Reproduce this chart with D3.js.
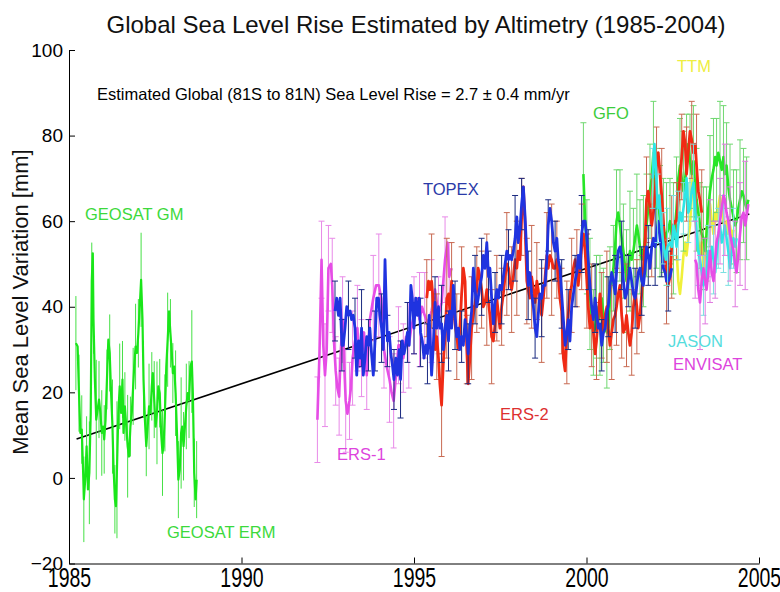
<!DOCTYPE html>
<html>
<head>
<meta charset="utf-8">
<script src="https://cdn.jsdelivr.net/npm/d3@7"></script>
<style>
  body { margin: 0; background: #fff; }
  svg { display: block; font-family: "Liberation Sans", Arial, sans-serif; }
</style>
</head>
<body>
<svg id="chart" width="780" height="592"></svg>
<script>
// ---- data: [decimal year, mean sea level (mm)] ----
const geosat = [[1985.20,31.5],[1985.25,30.7],[1985.29,19.8],[1985.33,10.5],[1985.37,11.3],[1985.41,1.2],[1985.43,-5],[1985.47,-0.4],[1985.51,7.4],[1985.55,-2.7],[1985.59,1.2],[1985.63,15.2],[1985.66,46],[1985.69,52.5],[1985.71,37],[1985.75,23],[1985.79,13.6],[1985.83,16],[1985.87,18.3],[1985.91,15.2],[1985.95,10.5],[1985.99,12],[1986.02,9],[1986.06,13.6],[1986.10,23],[1986.14,32.3],[1986.18,29.2],[1986.22,19.8],[1986.26,12],[1986.29,2.7],[1986.33,-5],[1986.36,-6.6],[1986.39,1.9],[1986.43,15.2],[1986.47,21.4],[1986.51,15.2],[1986.55,23],[1986.58,10.5],[1986.62,16.7],[1986.66,12],[1986.70,7.4],[1986.74,5],[1986.78,12],[1986.82,15.2],[1986.86,21.4],[1986.89,26],[1986.93,30.7],[1986.97,29.2],[1987.01,33.8],[1987.05,40],[1987.09,46.3],[1987.13,37],[1987.16,23],[1987.20,13.6],[1987.24,7.4],[1987.28,12],[1987.32,16.7],[1987.36,15.2],[1987.40,21.4],[1987.43,24.5],[1987.47,18.3],[1987.51,12],[1987.55,15.2],[1987.59,21.4],[1987.63,19.8],[1987.67,10.5],[1987.71,5.8],[1987.74,7.4],[1987.78,15.2],[1987.82,26],[1987.86,32.3],[1987.90,38.9],[1987.94,33.8],[1987.98,29.2],[1988.01,24.5],[1988.05,26],[1988.09,19.8],[1988.13,10.5],[1988.17,-0.4],[1988.21,1.9],[1988.25,10.5],[1988.28,12],[1988.32,7.4],[1988.36,12],[1988.40,16.7],[1988.44,19.8],[1988.48,18.3],[1988.52,26],[1988.56,27.2],[1988.59,19.8],[1988.63,1.2],[1988.67,-5],[1988.70,-0.4]];
const geosatErr = [11,9,8,10,7,12,9,8,14,9,10,8,7,9,11,8,16,10,9,8,12,7,9,10,8,11,9,7,10,8,9,12,8,10,9,11,8,7,10,9,13,8,10,9,12,8,9];

const ers1 = [[1992.20,13.6],[1992.26,29],[1992.32,51],[1992.37,31],[1992.42,24],[1992.47,30],[1992.52,49],[1992.59,50],[1992.63,45],[1992.68,32],[1992.73,25],[1992.78,21],[1992.83,19],[1992.88,30],[1992.93,37],[1992.97,28],[1993.02,18],[1993.07,15],[1993.13,18],[1993.17,21],[1993.22,28],[1993.29,32],[1993.36,35],[1993.42,26],[1993.48,28],[1993.55,34],[1993.63,24],[1993.72,37],[1993.82,42],[1993.90,45],[1993.98,45],[1994.05,42],[1994.13,30],[1994.21,26],[1994.29,23],[1994.35,20],[1994.41,18],[1994.48,24],[1994.55,31],[1994.61,31],[1994.69,28],[1994.77,33],[1994.85,31],[1994.92,35],[1995.00,38],[1995.08,42],[1995.16,37],[1995.23,40],[1995.31,38],[1995.40,36],[1995.51,39],[1995.61,44],[1995.71,38],[1995.80,41],[1995.90,51],[1995.97,55],[1996.02,47],[1996.09,49]];
const ers1Err = [10,9,12,10,11,8,9,10,12,9,11,10,9,8,10,12,9,10,11,9,8,10,9,11,10,12,9,10,8];

const topex = [[1992.71,39],[1992.76,42],[1992.81,38],[1992.86,42],[1992.91,31],[1992.95,31],[1993.00,35],[1993.05,40],[1993.10,38],[1993.15,39],[1993.19,37],[1993.24,38],[1993.29,35],[1993.34,24],[1993.39,32],[1993.44,28],[1993.48,35],[1993.53,24],[1993.58,28],[1993.63,33],[1993.68,31],[1993.72,35],[1993.77,29],[1993.82,24],[1993.87,32],[1993.92,42],[1993.97,42],[1994.01,38],[1994.06,35],[1994.11,30],[1994.16,51],[1994.19,42],[1994.23,32],[1994.28,34],[1994.33,29],[1994.38,26],[1994.42,23],[1994.47,28],[1994.52,24],[1994.57,30],[1994.61,23],[1994.66,32],[1994.71,29],[1994.76,31],[1994.81,34],[1994.86,31],[1994.91,45],[1994.95,42],[1995.00,35],[1995.05,42],[1995.10,38],[1995.15,42],[1995.19,34],[1995.24,32],[1995.29,28],[1995.34,31],[1995.39,29],[1995.44,38],[1995.51,24],[1995.56,31],[1995.61,41],[1995.66,35],[1995.71,40],[1995.75,35],[1995.80,36],[1995.85,30],[1995.90,35],[1995.95,38],[1996.00,32],[1996.04,39],[1996.09,35],[1996.14,45],[1996.19,38],[1996.24,33],[1996.29,35],[1996.33,30],[1996.38,33],[1996.43,31],[1996.48,37],[1996.53,33],[1996.57,29],[1996.62,35],[1996.67,39],[1996.72,49],[1996.77,44],[1996.82,40],[1996.86,42],[1996.91,45],[1996.96,47],[1997.01,52],[1997.06,49],[1997.11,55],[1997.16,47],[1997.20,49],[1997.25,42],[1997.30,36],[1997.35,41],[1997.40,44],[1997.45,42],[1997.49,45],[1997.54,44],[1997.59,47],[1997.64,50],[1997.69,53],[1997.74,51],[1997.78,52],[1997.83,51],[1997.88,53],[1997.93,56],[1997.98,61],[1998.02,55],[1998.07,58],[1998.12,64],[1998.17,68],[1998.22,61],[1998.27,52],[1998.31,45],[1998.36,48],[1998.41,43],[1998.46,40],[1998.51,35],[1998.56,33],[1998.60,38],[1998.65,43],[1998.70,42],[1998.75,45],[1998.80,45],[1998.85,51],[1998.89,59],[1998.94,63],[1998.99,60],[1999.04,55],[1999.09,53],[1999.14,56],[1999.18,51],[1999.23,49],[1999.28,43],[1999.33,37],[1999.38,31],[1999.43,34],[1999.47,37],[1999.52,32],[1999.57,40],[1999.62,43],[1999.67,46],[1999.72,48],[1999.76,52],[1999.81,49],[1999.86,57],[1999.91,60],[1999.96,60],[2000.01,56],[2000.05,51],[2000.10,45],[2000.15,40],[2000.20,37],[2000.25,42],[2000.29,39],[2000.34,35],[2000.39,36],[2000.44,31],[2000.49,34],[2000.54,35],[2000.59,39],[2000.63,40],[2000.68,45],[2000.73,48],[2000.78,46],[2000.83,43],[2000.87,48],[2000.92,53],[2000.97,54],[2001.02,52],[2001.07,46],[2001.12,42],[2001.16,43],[2001.21,46],[2001.26,49],[2001.31,46],[2001.36,43],[2001.41,42],[2001.46,45],[2001.50,48],[2001.55,49],[2001.60,46],[2001.65,45],[2001.70,49],[2001.74,54],[2001.79,52],[2001.84,49],[2001.89,54],[2001.94,56],[2001.99,54],[2002.03,57],[2002.08,60],[2002.13,56],[2002.18,53],[2002.23,49],[2002.28,48],[2002.32,46],[2002.37,46],[2002.42,47],[2002.47,49]];
const topexErr = [7,6,8,7,9,6,7,8,6,7,9,7,6,8,7,6,9,7,8,6,7,8,9,6,7,8,7,10,6,8,7,9,6,7,8,7,6,9,7,8,6,7,9,8,6,7,8,7,9,6,7];

const ers2 = [[1995.37,42],[1995.42,46],[1995.46,44],[1995.51,46],[1995.56,41],[1995.61,30],[1995.66,33],[1995.71,28],[1995.75,22],[1995.80,17],[1995.85,27],[1995.90,33],[1995.95,42],[1996.00,43],[1996.04,39],[1996.09,46],[1996.14,40],[1996.19,36],[1996.24,33],[1996.29,30],[1996.33,35],[1996.38,43],[1996.43,49],[1996.48,46],[1996.53,30],[1996.57,22],[1996.62,28],[1996.67,35],[1996.72,38],[1996.77,41],[1996.82,44],[1996.86,49],[1996.91,47],[1996.96,44],[1997.01,40],[1997.06,41],[1997.11,44],[1997.16,41],[1997.20,38],[1997.25,33],[1997.30,32],[1997.35,36],[1997.40,42],[1997.45,38],[1997.49,35],[1997.54,40],[1997.59,43],[1997.64,47],[1997.69,50],[1997.74,49],[1997.78,46],[1997.83,44],[1997.88,47],[1997.93,51],[1997.98,49],[1998.02,53],[1998.07,51],[1998.12,61],[1998.17,68],[1998.22,59],[1998.27,46],[1998.31,44],[1998.36,42],[1998.41,47],[1998.46,44],[1998.51,41],[1998.56,46],[1998.60,44],[1998.65,40],[1998.70,38],[1998.75,42],[1998.80,47],[1998.85,52],[1998.89,49],[1998.94,52],[1998.99,51],[1999.04,49],[1999.09,49],[1999.14,51],[1999.18,47],[1999.23,42],[1999.28,39],[1999.33,28],[1999.38,25],[1999.43,34],[1999.47,38],[1999.52,43],[1999.57,45],[1999.62,49],[1999.67,51],[1999.72,49],[1999.76,45],[1999.81,49],[1999.86,54],[1999.91,57],[1999.96,53],[2000.01,46],[2000.05,40],[2000.10,35],[2000.15,38],[2000.20,34],[2000.25,29],[2000.29,32],[2000.34,38],[2000.39,43],[2000.44,38],[2000.49,34],[2000.54,38],[2000.59,40],[2000.63,35],[2000.68,31],[2000.73,34],[2000.78,37],[2000.83,38],[2000.87,40],[2000.92,43],[2000.97,45],[2001.02,38],[2001.07,34],[2001.12,35],[2001.16,38],[2001.21,34],[2001.26,31],[2001.31,34],[2001.36,40],[2001.41,43],[2001.46,40],[2001.50,35],[2001.55,38],[2001.60,43],[2001.65,49],[2001.70,56],[2001.74,65],[2001.79,67],[2001.84,63],[2001.89,59],[2001.94,62],[2001.99,67],[2002.03,73],[2002.08,76],[2002.13,71],[2002.18,66],[2002.23,60],[2002.28,52],[2002.32,46],[2002.37,45],[2002.42,47],[2002.47,54],[2002.52,59],[2002.57,60],[2002.61,60],[2002.66,65],[2002.71,70],[2002.76,75],[2002.81,81],[2002.86,78],[2002.90,71],[2002.95,76],[2003.00,81],[2003.05,79],[2003.10,76],[2003.15,78],[2003.19,73],[2003.24,67],[2003.29,65],[2003.34,62]];
const ers2Err = [9,11,10,12,14,9,10,11,8,12,10,9,13,11,10,9,12,10,11,9,10,12,9,11,10,13,9,10,12,11,9,10,11,12,9,10,13,11,9,10,12,10,11,9,10,12,9,11,10,12,9,10,11,9,12,10];

const gfo = [[1999.91,71],[1999.96,60],[2000.01,54],[2000.05,49],[2000.10,43],[2000.15,37],[2000.20,34],[2000.25,35],[2000.29,40],[2000.34,37],[2000.39,38],[2000.44,42],[2000.49,38],[2000.54,35],[2000.59,34],[2000.63,35],[2000.68,42],[2000.73,46],[2000.78,49],[2000.83,54],[2000.87,60],[2000.92,62],[2000.97,59],[2001.02,56],[2001.07,53],[2001.12,49],[2001.16,46],[2001.21,49],[2001.26,53],[2001.31,51],[2001.36,53],[2001.41,56],[2001.46,59],[2001.50,57],[2001.55,54],[2001.60,51],[2001.65,53],[2001.70,56],[2001.74,59],[2001.79,63],[2001.84,67],[2001.89,70],[2001.94,76],[2001.99,70],[2002.03,63],[2002.08,65],[2002.13,60],[2002.18,57],[2002.23,59],[2002.28,56],[2002.32,57],[2002.37,58],[2002.42,60],[2002.47,57],[2002.52,56],[2002.57,59],[2002.61,63],[2002.66,70],[2002.71,73],[2002.76,70],[2002.81,67],[2002.86,70],[2002.90,73],[2002.95,78],[2003.00,74],[2003.05,71],[2003.10,74],[2003.15,68],[2003.19,65],[2003.24,62],[2003.29,59],[2003.34,57],[2003.39,56],[2003.44,53],[2003.48,57],[2003.53,63],[2003.58,67],[2003.63,70],[2003.68,72],[2003.73,75],[2003.77,73],[2003.82,76],[2003.87,74],[2003.92,72],[2003.97,75],[2004.01,71],[2004.06,73],[2004.11,68],[2004.16,65],[2004.21,63],[2004.26,61],[2004.31,59],[2004.35,60],[2004.40,63],[2004.45,65],[2004.50,67],[2004.55,66],[2004.60,64],[2004.64,63],[2004.69,65]];
const gfoErr = [12,11,13,10,12,14,11,13,12,10,12,13,11,12,14,10,12,11,13,12,11,12,14,13,11,12,10,13,12,11,14,12,11,13,12,10,12,11,13,12,11,14,12,10,13,11,12,14,11,12,13];

const ttm = [[2002.62,52],[2002.66,46],[2002.71,43],[2002.76,47],[2002.81,52],[2002.86,55],[2002.90,52],[2002.95,56],[2003.00,59],[2003.05,66],[2003.10,74],[2003.15,62],[2003.19,57],[2003.24,55],[2003.29,52],[2003.34,55],[2003.39,49],[2003.44,52],[2003.48,58],[2003.53,61],[2003.58,64],[2003.63,60],[2003.68,57],[2003.73,62],[2003.77,60],[2003.82,63],[2003.87,66],[2003.92,63],[2003.97,60],[2004.01,58],[2004.06,60],[2004.11,57],[2004.16,59],[2004.21,56],[2004.26,58]];
const ttmErr = [];

const jason = [[2001.92,70],[2001.97,78],[2002.01,73],[2002.06,63],[2002.11,66],[2002.16,60],[2002.21,56],[2002.26,53],[2002.30,51],[2002.35,54],[2002.42,55],[2002.47,54],[2002.52,59],[2002.57,57],[2002.61,54],[2002.66,59],[2002.71,62],[2002.76,60],[2002.81,63],[2002.86,66],[2002.90,70],[2002.95,62],[2003.00,63],[2003.05,67],[2003.10,69],[2003.15,63],[2003.19,57],[2003.24,53],[2003.29,51],[2003.34,48],[2003.39,45],[2003.44,46],[2003.48,49],[2003.53,53],[2003.58,50],[2003.63,54],[2003.68,51],[2003.73,48],[2003.77,52],[2003.82,56],[2003.87,59],[2003.92,55],[2003.97,57],[2004.01,59],[2004.06,56],[2004.11,53],[2004.16,49],[2004.21,53],[2004.26,56],[2004.31,54],[2004.35,56]];
const jasonErr = [7,8,6,9,7,8,6,7,9,8,7,6,8,7,9,8,7];

const envisat = [[2003.15,51],[2003.19,50],[2003.24,44],[2003.29,41],[2003.34,46],[2003.39,49],[2003.44,46],[2003.48,44],[2003.53,48],[2003.58,53],[2003.63,48],[2003.68,46],[2003.73,51],[2003.77,55],[2003.82,57],[2003.87,60],[2003.92,63],[2003.97,66],[2004.01,65],[2004.06,62],[2004.11,60],[2004.16,57],[2004.21,55],[2004.26,53],[2004.31,50],[2004.35,48],[2004.40,52],[2004.45,57],[2004.50,61],[2004.55,62],[2004.60,59],[2004.64,61],[2004.69,64]];
const envisatErr = [9,11,10,12,9,10,13,11,10,12,15];

// linear fit, 2.7 mm/yr
const trendYears = [1985.22, 2004.72];
const trendValues = [9.1, 61.7];

const xTicks = [1985, 1990, 1995, 2000, 2005];
const yTicks = [-20, 0, 20, 40, 60, 80, 100];

const titleText = 'Global Sea Level Rise Estimated by Altimetry (1985-2004)';
const noteText = 'Estimated Global (81S to 81N) Sea Level Rise = 2.7 \u00b1 0.4 mm/yr';
const yLabelText = 'Mean Sea Level Variation [mm]';

// ---- chart ----
const svg = d3.select('#chart');
const x = d3.scaleLinear().domain([1985, 2005]).range([69, 759]);
const y = d3.scaleLinear().domain([-20, 100]).range([563.5, 50]);

svg.append('rect').attr('width', 780).attr('height', 592).attr('fill', '#fff');

const plot = svg.append('g');

const line = d3.line()
    .x(d => x(d[0]))
    .y(d => y(d[1]));

// trend line underneath the data
plot.append('path')
    .datum(d3.zip(trendYears, trendValues))
    .attr('d', line)
    .attr('fill', 'none')
    .attr('stroke', '#000')
    .attr('stroke-width', 1.6);

// drawing order matters: later missions sit on top
const series = [
    { pts: geosat,  err: geosatErr,  every: 2, color: '#19e619', bar: '#45e045', width: 2.2, cap: 0 },
    { pts: ers1,    err: ers1Err,    every: 2, color: '#e64de6', bar: '#e88ae8', width: 2.6, cap: 3 },
    { pts: ttm,     err: ttmErr,     every: 3, color: '#f0f03a', bar: '#f0f080', width: 2.6, cap: 3 },
    { pts: gfo,     err: gfoErr,     every: 2, color: '#26e626', bar: '#70d870', width: 2.6, cap: 3 },
    { pts: ers2,    err: ers2Err,    every: 3, color: '#f02a14', bar: '#c86a52', width: 2.8, cap: 3 },
    { pts: topex,   err: topexErr,   every: 4, color: '#1f33e0', bar: '#1a2a80', width: 2.8, cap: 3 },
    { pts: jason,   err: jasonErr,   every: 3, color: '#2ee6e6', bar: '#7ae0e0', width: 2.6, cap: 3 },
    { pts: envisat, err: envisatErr, every: 3, color: '#e64de6', bar: '#e07ae0', width: 2.6, cap: 3 }
];

series.forEach(s => {
    const g = plot.append('g');

    const bars = [];
    s.pts.forEach((d, i) => {
        if (i % s.every === 0) {
            const e = s.err[i / s.every];
            if (e != null) bars.push({ t: d[0], v: d[1], e: e });
        }
    });

    g.selectAll('.eb')
        .data(bars)
        .enter()
        .append('path')
        .attr('class', 'eb')
        .attr('d', d => {
            const cx = x(d.t), y0 = y(d.v - d.e), y1 = y(d.v + d.e);
            let p = `M${cx},${y0}V${y1}`;
            if (s.cap) p += `M${cx - s.cap},${y0}H${cx + s.cap}M${cx - s.cap},${y1}H${cx + s.cap}`;
            return p;
        })
        .attr('fill', 'none')
        .attr('stroke', s.bar)
        .attr('stroke-width', 1);

    g.append('path')
        .datum(s.pts)
        .attr('d', line)
        .attr('fill', 'none')
        .attr('stroke', s.color)
        .attr('stroke-width', s.width)
        .attr('stroke-linejoin', 'round');
});

// axes: MATLAB style, inward ticks, no box
const yAxis = svg.append('g')
    .attr('transform', 'translate(69,0)')
    .call(d3.axisLeft(y).tickValues(yTicks).tickSizeInner(-6).tickSizeOuter(0).tickPadding(6));
yAxis.selectAll('text')
    .attr('font-size', 19)
    .attr('font-family', '"Liberation Sans", Arial, sans-serif')
    .attr('fill', '#000');

const xAxis = svg.append('g')
    .attr('transform', 'translate(0,563.5)')
    .call(d3.axisBottom(x).tickValues(xTicks).tickFormat(d3.format('d')).tickSizeInner(-6).tickSizeOuter(0));
xAxis.selectAll('text')
    .attr('y', null)
    .attr('dy', null)
    .attr('transform', 'translate(0,23.5) scale(1,1.38)')
    .attr('font-size', 19.5)
    .attr('font-family', '"Liberation Sans", Arial, sans-serif')
    .attr('fill', '#000');

svg.selectAll('.domain, .tick line').attr('stroke', '#000').attr('stroke-width', 1);

// titles
svg.append('text')
    .attr('x', 416)
    .attr('y', 33)
    .attr('text-anchor', 'middle')
    .attr('font-size', 24)
    .attr('fill', '#111')
    .text(titleText);

svg.append('text')
    .attr('x', 97)
    .attr('y', 100)
    .attr('font-size', 16.5)
    .attr('fill', '#000')
    .text(noteText);

svg.append('text')
    .attr('transform', 'translate(28,302) rotate(-90)')
    .attr('text-anchor', 'middle')
    .attr('font-size', 22)
    .attr('fill', '#111')
    .text(yLabelText);

// mission labels
const missionLabels = [
    { text: 'GEOSAT GM',  color: '#3cd93c', x: 85,  y: 220 },
    { text: 'GEOSAT ERM', color: '#3cd93c', x: 167, y: 538 },
    { text: 'ERS-1',      color: '#dd44dd', x: 337, y: 460 },
    { text: 'TOPEX',      color: '#2a3aa8', x: 423, y: 195 },
    { text: 'ERS-2',      color: '#dd3030', x: 500, y: 420 },
    { text: 'GFO',        color: '#3ccc3c', x: 593, y: 118.5 },
    { text: 'TTM',        color: '#eeee40', x: 677, y: 72 },
    { text: 'JASON',      color: '#55dddd', x: 668, y: 347 },
    { text: 'ENVISAT',    color: '#dd44dd', x: 673, y: 370 }
];

svg.selectAll('.mission')
    .data(missionLabels)
    .enter()
    .append('text')
    .attr('class', 'mission')
    .attr('x', d => d.x)
    .attr('y', d => d.y)
    .attr('font-size', 16.5)
    .attr('fill', d => d.color)
    .text(d => d.text);
</script>
</body>
</html>
